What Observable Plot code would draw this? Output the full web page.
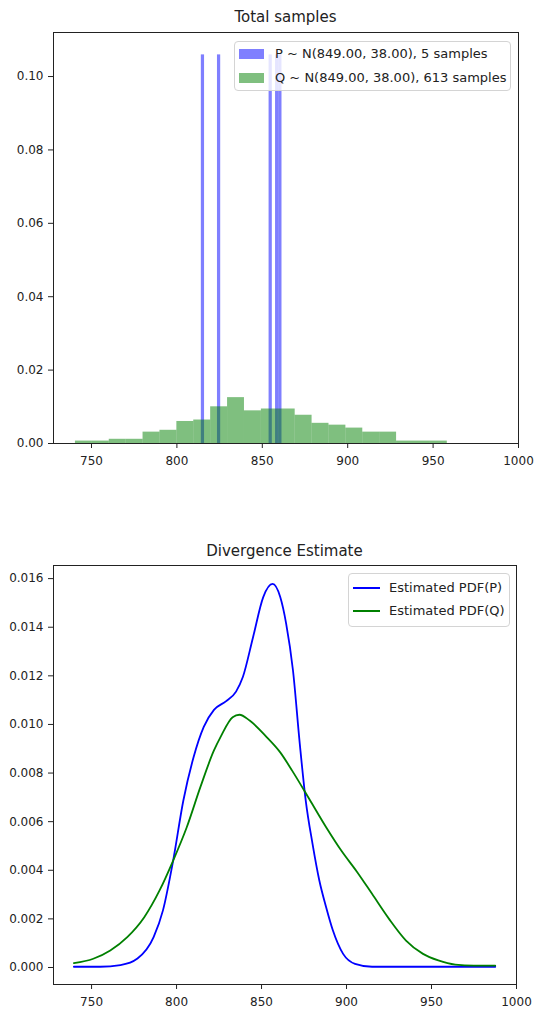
<!DOCTYPE html>
<html>
<head>
<meta charset="utf-8">
<script src="https://cdn.jsdelivr.net/npm/d3@7"></script>
<script src="https://cdn.jsdelivr.net/npm/@observablehq/plot@0.6"></script>
<style>
  body { margin: 0; background: #fff; font-family: "DejaVu Sans", sans-serif; color: #222; }
  #page { position: relative; width: 541px; height: 1013px; overflow: hidden; background: #fff; }
  .title { position: absolute; text-align: center; font-size: 15px; line-height: 18px; color: #222; }
  .legend { position: absolute; box-sizing: border-box; border: 1px solid #d4d4d4; border-radius: 4px; background: rgba(255,255,255,0.8); }
  .legend .txt { position: absolute; font-size: 13px; line-height: 16px; white-space: nowrap; color: #222; }
  .legend .sw { position: absolute; }
</style>
</head>
<body>
<div id="page"></div>
<script>
// ---------- Data: top chart (histograms, density) ----------
const topTitle = "Total samples";
const pLabel = "P ~ N(849.00, 38.00), 5 samples";
const qLabel = "Q ~ N(849.00, 38.00), 613 samples";

// P histogram: occupied bins (left edge) and their density
const pBinLeft = [814.30, 823.75, 853.97, 857.75, 859.64];
const pBinWidth = 1.889;
const pDensity = [0.1059, 0.1059, 0.1059, 0.1059, 0.1059];

// Q histogram: 25 bins
const qBinEdges = [740.60, 750.50, 760.39, 770.29, 780.18, 790.08, 799.98, 809.87, 819.77, 829.66,
                   839.56, 849.46, 859.35, 869.25, 879.14, 889.04, 898.94, 908.83, 918.73, 928.62,
                   938.52, 948.42, 958.31, 968.21, 978.10, 988.00];
const qDensity = [0.00066, 0.00066, 0.00115, 0.00115, 0.0031, 0.0036, 0.0060, 0.0064, 0.0100, 0.0125,
                  0.0089, 0.0094, 0.0094, 0.0077, 0.0055, 0.0050, 0.0042, 0.0031, 0.0031, 0.00066,
                  0.00066, 0.00066, 0, 0, 0];

const xTicks = [750, 800, 850, 900, 950, 1000];
const yTicksTop = [0, 0.02, 0.04, 0.06, 0.08, 0.10];

// ---------- Data: bottom chart (estimated PDFs) ----------
const bottomTitle = "Divergence Estimate";
const pdfPLabel = "Estimated PDF(P)";
const pdfQLabel = "Estimated PDF(Q)";

const pdfPx = [739.6, 755, 767, 777, 786.5, 792, 798, 804, 810, 816, 822, 829, 835, 839, 845, 851,
               856.5, 861, 864.5, 868.5, 872.5, 876, 880, 884, 888, 892, 898, 905, 915, 987.5];
const pdfPy = [0.00003, 0.00003, 0.0001, 0.00037, 0.00125, 0.00235, 0.0044, 0.00687, 0.00865, 0.0099,
               0.0106, 0.01095, 0.01135, 0.01195, 0.01359, 0.01524, 0.01578, 0.01524, 0.01414, 0.01222,
               0.0092, 0.00687, 0.00509, 0.00358, 0.00248, 0.00152, 0.00056, 0.00015, 0.00003, 0.00003];

const pdfQx = [739.6, 751, 761, 771, 781, 790, 798, 806, 814, 822, 826, 833, 837, 843, 853, 861, 868,
               878, 888, 897, 906, 915, 925, 935, 945, 954, 964, 975, 987.5];
const pdfQy = [0.00018, 0.00036, 0.0007, 0.00125, 0.00207, 0.00317, 0.0044, 0.00577, 0.00742, 0.00893,
               0.0095, 0.0103, 0.0104, 0.01016, 0.00948, 0.00885, 0.0081, 0.00694, 0.00577, 0.0048,
               0.00395, 0.00303, 0.002, 0.00111, 0.00056, 0.00029, 0.00012, 0.00008, 0.00008];

const yTicksBottom = [0, 0.002, 0.004, 0.006, 0.008, 0.010, 0.012, 0.014, 0.016];

// ---------- Build ----------
const page = document.getElementById("page");
function place(el, left, top) {
  el.style.position = "absolute";
  el.style.left = left + "px";
  el.style.top = top + "px";
  page.appendChild(el);
  return el;
}
const blue = "#0000ff", green = "#008000", ink = "#222";

const histP = pBinLeft.map((x, i) => ({x1: x, x2: x + pBinWidth, y: pDensity[i]}));
const histQ = qDensity.map((d, i) => ({x1: qBinEdges[i], x2: qBinEdges[i + 1], y: d}));

const styleCommon = {fontFamily: "DejaVu Sans", fontSize: "12px", color: ink, background: "transparent", overflow: "visible"};

const topPlot = Plot.plot({
  width: 541, height: 500,
  marginLeft: 53, marginRight: 23, marginTop: 32, marginBottom: 57,
  x: {domain: [727.75, 1000]},
  y: {domain: [0, 0.112]},
  style: styleCommon,
  marks: [
    Plot.rectY(histP, {x1: "x1", x2: "x2", y: "y", fill: blue, fillOpacity: 0.5, inset: 0}),
    Plot.rectY(histQ, {x1: "x1", x2: "x2", y: "y", fill: green, fillOpacity: 0.5, inset: 0}),
    Plot.frame({stroke: ink, strokeWidth: 1}),
    Plot.axisX({ticks: xTicks, tickFormat: d => String(d), tickSize: 5, tickPadding: 8, label: null}),
    Plot.axisY({ticks: yTicksTop, tickFormat: d3.format(".2f"), tickSize: 5, tickPadding: 5, label: null})
  ]
});
place(topPlot, 0, 0);

const ptsP = pdfPx.map((x, i) => ({x, y: pdfPy[i]}));
const ptsQ = pdfQx.map((x, i) => ({x, y: pdfQy[i]}));

const bottomPlot = Plot.plot({
  width: 541, height: 493,
  marginLeft: 53, marginRight: 25, marginTop: 45, marginBottom: 29,
  x: {domain: [727.6, 1000]},
  y: {domain: [-0.0007, 0.01654]},
  style: styleCommon,
  marks: [
    Plot.line(ptsP, {x: "x", y: "y", stroke: blue, strokeWidth: 1.8, curve: "monotone-x"}),
    Plot.line(ptsQ, {x: "x", y: "y", stroke: green, strokeWidth: 1.8, curve: "monotone-x"}),
    Plot.frame({stroke: ink, strokeWidth: 1}),
    Plot.axisX({ticks: xTicks, tickFormat: d => String(d), tickSize: 5, tickPadding: 8, label: null}),
    Plot.axisY({ticks: yTicksBottom, tickFormat: d3.format(".3f"), tickSize: 5, tickPadding: 5, label: null})
  ]
});
place(bottomPlot, 0, 520);

// Titles
function title(text, left, top, width) {
  const d = document.createElement("div");
  d.className = "title";
  d.textContent = text;
  d.style.width = width + "px";
  return place(d, left, top);
}
title(topTitle, 53, 8, 465);
title(bottomTitle, 53, 542, 463);

// Legends
function legend(left, top, width, height, entries) {
  const box = document.createElement("div");
  box.className = "legend";
  box.style.width = width + "px";
  box.style.height = height + "px";
  entries.forEach(e => {
    const sw = document.createElement("div");
    sw.className = "sw";
    sw.style.left = e.sx + "px"; sw.style.top = e.sy + "px";
    sw.style.width = e.sw + "px"; sw.style.height = e.sh + "px";
    sw.style.background = e.color;
    box.appendChild(sw);
    const t = document.createElement("div");
    t.className = "txt";
    t.style.left = e.tx + "px"; t.style.top = e.ty + "px";
    t.textContent = e.label;
    box.appendChild(t);
  });
  return place(box, left, top);
}
legend(234, 41, 277, 50, [
  {label: pLabel, color: "rgba(0,0,255,0.5)", sx: 4, sy: 7, sw: 25, sh: 10, tx: 40, ty: 4},
  {label: qLabel, color: "rgba(0,128,0,0.5)", sx: 4, sy: 31, sw: 25, sh: 10, tx: 40, ty: 28}
]);
legend(348, 573, 162, 54, [
  {label: pdfPLabel, color: blue, sx: 4, sy: 13, sw: 27, sh: 2, tx: 40, ty: 6},
  {label: pdfQLabel, color: green, sx: 4, sy: 36, sw: 27, sh: 2, tx: 40, ty: 29}
]);
</script>
</body>
</html>
